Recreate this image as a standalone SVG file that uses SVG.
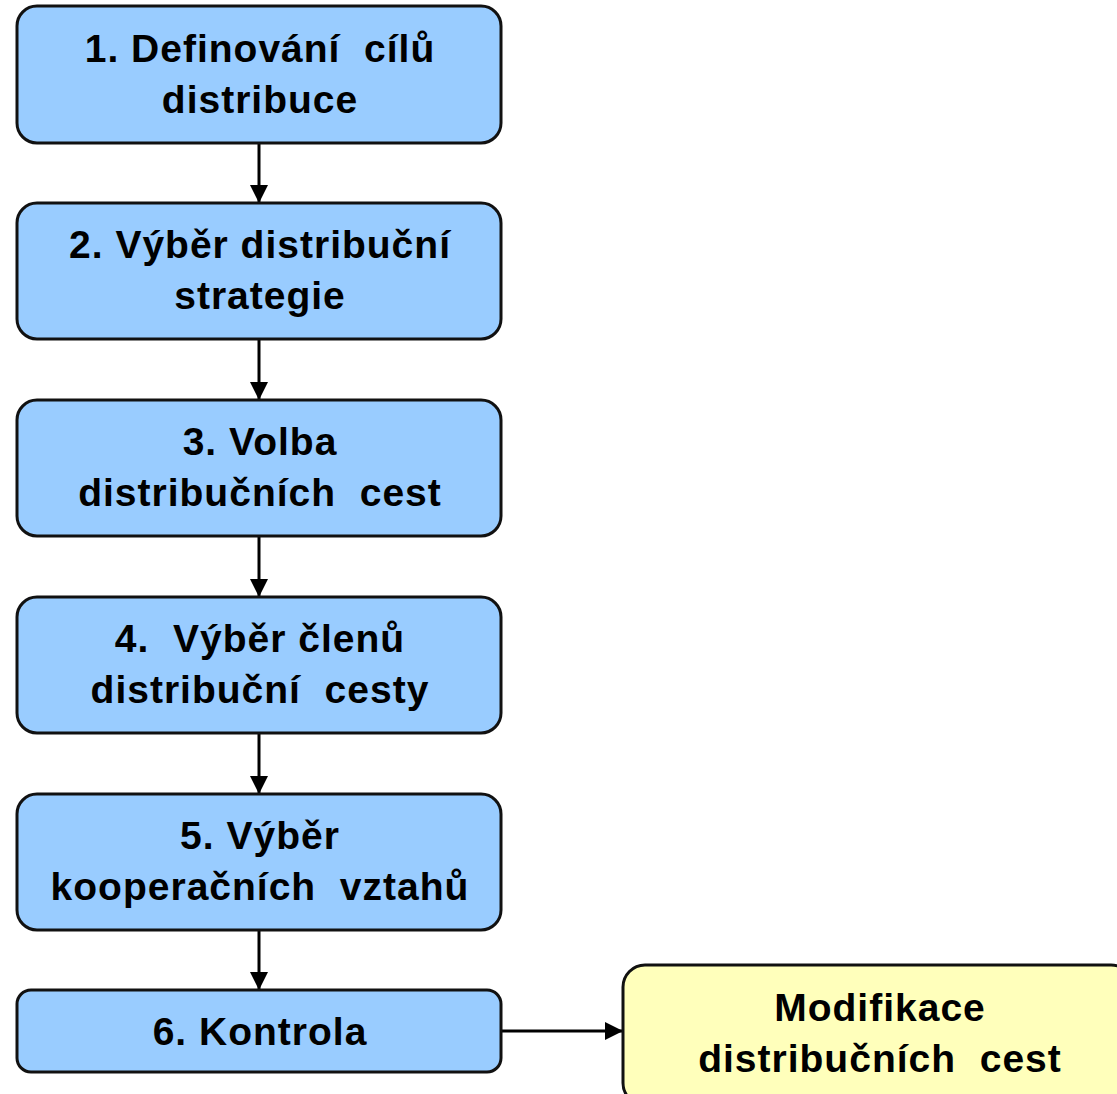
<svg xmlns="http://www.w3.org/2000/svg" width="1117" height="1094" viewBox="0 0 1117 1094">
<defs>
<marker id="ah" markerWidth="18" markerHeight="18" refX="10" refY="5" orient="auto" markerUnits="userSpaceOnUse" viewBox="0 0 10 10">
<path d="M0,0 L10,5 L0,10 Z" fill="#000"/>
</marker>
<style>
.box{fill:#99CCFF;stroke:#111;stroke-width:3}
.yel{fill:#FFFFBB;stroke:#111;stroke-width:3}
.t{font-family:"Liberation Sans",Arial,sans-serif;font-weight:bold;font-size:39px;letter-spacing:1px;fill:#000;text-anchor:middle;white-space:pre}
.c{stroke:#000;stroke-width:3;fill:none}
</style>
</defs>
<rect width="1117" height="1094" fill="#fff"/>
<g id="connectors">
<line class="c" x1="259" y1="143" x2="259" y2="203" marker-end="url(#ah)"/>
<line class="c" x1="259" y1="339" x2="259" y2="400" marker-end="url(#ah)"/>
<line class="c" x1="259" y1="536" x2="259" y2="597" marker-end="url(#ah)"/>
<line class="c" x1="259" y1="733" x2="259" y2="794" marker-end="url(#ah)"/>
<line class="c" x1="259" y1="930" x2="259" y2="990" marker-end="url(#ah)"/>
<line class="c" x1="502" y1="1031" x2="623" y2="1031" marker-end="url(#ah)"/>
</g>
<g id="n1"><rect class="box" x="17" y="6" width="484" height="137" rx="20"/>
<text class="t" x="260" y="62">1. Definování  cílů</text><text class="t" x="260" y="113">distribuce</text></g>
<g id="n2"><rect class="box" x="17" y="203" width="484" height="136" rx="20"/>
<text class="t" x="260" y="258">2. Výběr distribuční</text><text class="t" x="260" y="309">strategie</text></g>
<g id="n3"><rect class="box" x="17" y="400" width="484" height="136" rx="20"/>
<text class="t" x="260" y="455">3. Volba</text><text class="t" x="260" y="506">distribučních  cest</text></g>
<g id="n4"><rect class="box" x="17" y="597" width="484" height="136" rx="20"/>
<text class="t" x="260" y="652">4.  Výběr členů</text><text class="t" x="260" y="703">distribuční  cesty</text></g>
<g id="n5"><rect class="box" x="17" y="794" width="484" height="136" rx="20"/>
<text class="t" x="260" y="849">5. Výběr</text><text class="t" x="260" y="900">kooperačních  vztahů</text></g>
<g id="n6"><rect class="box" x="17" y="990" width="484" height="82" rx="14"/>
<text class="t" x="260" y="1045">6. Kontrola</text></g>
<g id="n7"><rect class="yel" x="623" y="965" width="510" height="140" rx="22"/>
<text class="t" x="880" y="1021">Modifikace</text><text class="t" x="880" y="1072">distribučních  cest</text></g>
</svg>
